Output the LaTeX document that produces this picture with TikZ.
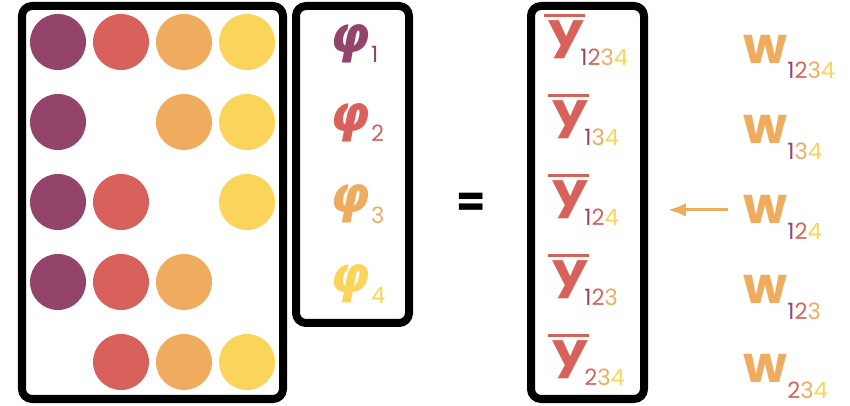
\documentclass[tikz,border=0pt]{standalone}
\usepackage{fontspec}
\usepackage{xcolor}
\usetikzlibrary{positioning, arrows.meta}
\newfontfamily\popfont{Poppins}
\newfontfamily\popwide{Poppins}[FakeStretch=1.22]
\newfontfamily\phifont{DejaVu Sans}
\definecolor{hue1}{HTML}{944468}
\definecolor{hue2}{HTML}{D8625B}
\definecolor{hue3}{HTML}{EFAC5F}
\definecolor{hue4}{HTML}{FBD55B}
\newcommand\dg[1]{\textcolor{hue#1}{#1}}

\begin{document}
\begin{tikzpicture}[
	x=0.025cm, y=-0.025cm,
	>=Latex,
	% Define styles for the frames and labels
	frame/.style={
		draw=black,
		line width=0.2cm,
		rounded corners=0.25cm
	},
	dot/.style={
		circle,
		inner sep=0pt,
		minimum size=1.4cm
	},
	ylet/.style={
		font=\popwide\bfseries\fontsize{33}{33}\selectfont,
		text=hue2, inner sep=0pt, anchor=base
	},
	wlet/.style={
		font=\popfont\bfseries\fontsize{36}{36}\selectfont,
		text=hue3, inner sep=0pt, anchor=base
	},
	philet/.style={
		font=\phifont\bfseries\itshape\fontsize{36}{36}\selectfont,
		inner sep=0pt, anchor=base
	},
	idx/.style={
		font=\popfont\fontsize{16}{16}\selectfont,
		inner sep=0pt, anchor=base west
	},
	ybar/.style={
		draw=hue2, line width=0.075cm
	}
	]
	\useasboundingbox (0,0) rectangle (850,406);
	
	% --- 1. MATRIX OF PLAYERS ---
	\draw[frame] (22,6) rectangle (283,399);
	\foreach \r/\cols in {1/{1,2,3,4}, 2/{1,3,4}, 3/{1,2,4}, 4/{1,2,3}, 5/{2,3,4}}
	\foreach \c in \cols
	\node[dot, fill=hue\c] (d\r\c) at ({58+63*(\c-1)}, {42+80*(\r-1)}) {};
	
	% --- 2. PHI VECTOR ---
	\draw[frame] (296,6) rectangle (409,323);
	\foreach \i/\yy in {1/53, 2/132, 3/213, 4/293}{
		\node[philet, text=hue\i] (phi\i) at (350,\yy) {φ};
		\node[idx, text=hue\i] (phis\i) at ([xshift=0.02cm, yshift=-0.25cm]phi\i.base east) {\i};
	}
	
	% --- 3. EQUALS ---
	\node[font=\popfont\bfseries\fontsize{30}{30}\selectfont] (eq) at (471,205) {=};
	
	% --- 4. Y VECTOR ---
	\foreach \i/\xx/\yy/\sub in {1/566/47/{\dg1\dg2\dg3\dg4}, 2/570/127/{\dg1\dg3\dg4},
		3/570/207/{\dg1\dg2\dg4}, 4/570/287/{\dg1\dg2\dg3}, 5/570/367/{\dg2\dg3\dg4}}{
		\node[ylet] (y\i) at (\xx,\yy) {y};
		\draw[ybar] ([xshift=-0.1cm, yshift=0.14cm]y\i.north west) -- ([xshift=0.02cm, yshift=0.14cm]y\i.north east);
		\node[idx] (ys\i) at ([xshift=-0.1cm, yshift=-0.45cm]y\i.base east) {\sub};
	}
	\draw[frame] (531,6) rectangle (644,399);
	
	% --- 5. WEIGHTS ---
	\foreach \i/\yy/\sub in {1/64/{\dg1\dg2\dg3\dg4}, 2/144/{\dg1\dg3\dg4},
		3/224/{\dg1\dg2\dg4}, 4/304/{\dg1\dg2\dg3}, 5/383/{\dg2\dg3\dg4}}{
		\node[wlet] (w\i) at (765,\yy) {w};
		\node[idx] (ws\i) at ([yshift=-0.375cm]w\i.base east) {\sub};
	}
	
	% Arrow w -> y
	\draw[-{Latex[length=0.45cm, width=0.34cm]}, hue3, line width=0.075cm] ([xshift=-0.375cm]w3.west) -- ++(-60,0);
	
\end{tikzpicture}
\end{document}
